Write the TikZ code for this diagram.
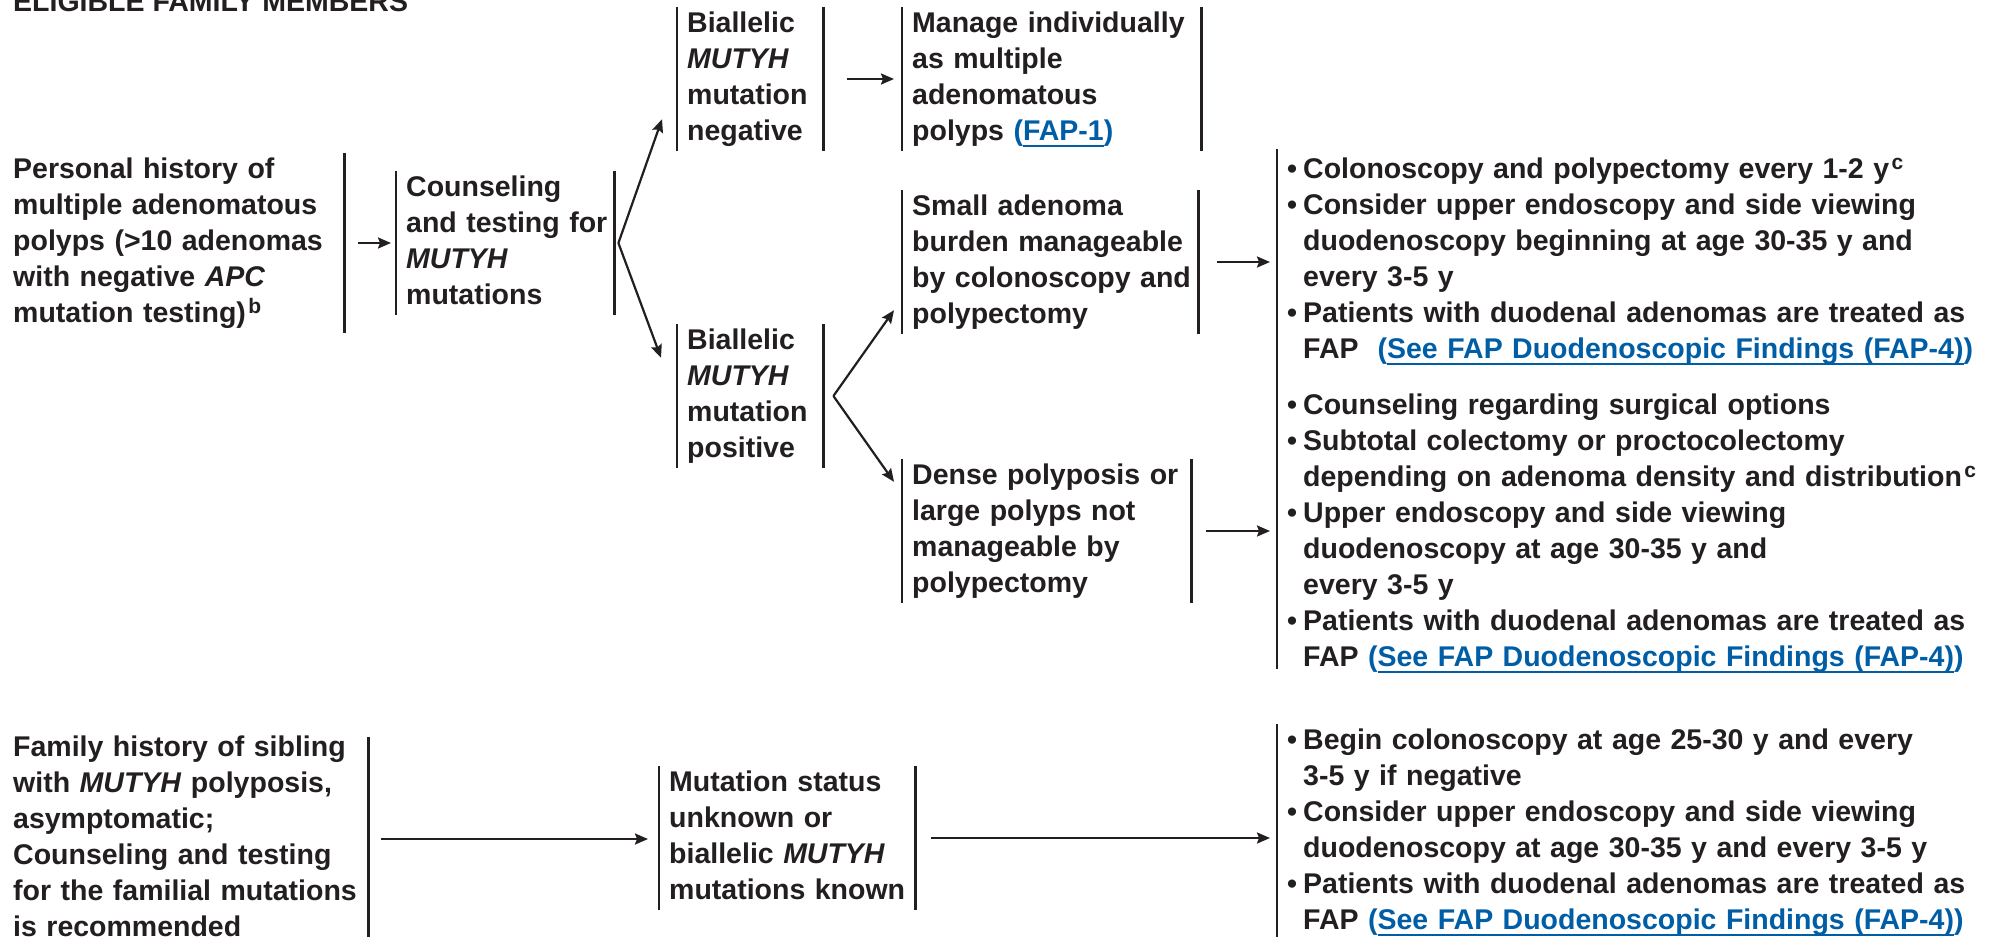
\documentclass[tikz,border=0pt]{standalone}
\usepackage{fontspec}
\setmainfont{Liberation Sans}
\usetikzlibrary{arrows.meta}

\definecolor{ink}{HTML}{231F20}
\definecolor{lnk}{RGB}{0,94,166}

% underlined link text with a fixed rule depth
\newcommand\linkul[1]{\setbox0=\hbox{#1}\rlap{\rule[-7pt]{\wd0}{1.8pt}}\box0}
% raised footnote letter
\newcommand\supr[1]{\kern2.5pt\raisebox{9pt}{\fontsize{21}{21}\selectfont #1}}
% bullet and continuation indent for the recommendation lists
\newcommand\bul{\makebox[16pt][l]{\textbullet}}
\newcommand\cont{\hspace*{16pt}}

\tikzset{
  txt/.style={font=\fontsize{28.5}{36}\selectfont\bfseries, text=ink,
    inner ysep=0pt, inner xsep=10pt, align=left, anchor=north west},
  bar/.style={draw=ink, line width=2.2pt},
  arr/.style={draw=ink, line width=2.2pt, -{Stealth[length=13pt,width=11pt,inset=2pt]}},
}

\begin{document}
\begin{tikzpicture}[x=1pt, y=-1pt]
\useasboundingbox (0,0) rectangle (2003,937);
\clip (0,0) rectangle (2003,937);
\fill[white] (0,0) rectangle (2003,937);

\node[font=\fontsize{28.5}{36}\selectfont\bfseries, text=ink, anchor=base west, inner sep=0pt] (title) at (13,11) {ELIGIBLE FAMILY MEMBERS};

% --- personal history branch ---
\node[txt, text width=321pt] (A) at (3,152.8) {\begin{tabular}[t]{@{}l@{}}Personal history of\\ multiple adenomatous\\ polyps (>10 adenomas\\ with negative \textit{APC}\\ mutation testing)\supr{b}\end{tabular}};
\node[txt, text width=198pt] (B) at (396,170.8) {\begin{tabular}[t]{@{}l@{}}Counseling\\ and testing for\\ \textit{MUTYH}\\ mutations\end{tabular}};
\node[txt, text width=126pt] (C) at (677,6.8) {\begin{tabular}[t]{@{}l@{}}Biallelic\\ \textit{MUTYH}\\ mutation\\ negative\end{tabular}};
\node[txt, text width=279pt] (D) at (902,6.8) {\begin{tabular}[t]{@{}l@{}}Manage individually\\ as multiple\\ adenomatous\\ polyps {\color{lnk}(\linkul{FAP-1})}\end{tabular}};
\node[txt, text width=126pt] (E) at (677,323.8) {\begin{tabular}[t]{@{}l@{}}Biallelic\\ \textit{MUTYH}\\ mutation\\ positive\end{tabular}};
\node[txt, text width=276pt] (F) at (902,189.8) {\begin{tabular}[t]{@{}l@{}}Small adenoma\\ burden manageable\\ by colonoscopy and\\ polypectomy\end{tabular}};
\node[txt, text width=269pt] (H) at (902,458.8) {\begin{tabular}[t]{@{}l@{}}Dense polyposis or\\ large polyps not\\ manageable by\\ polypectomy\end{tabular}};
\node[txt, text width=700pt] (G) at (1277,152.8) {\begin{tabular}[t]{@{}l@{}}\bul Colonoscopy and polypectomy every 1-2 y\supr{c}\\ \bul Consider upper endoscopy and side viewing\\ \cont duodenoscopy beginning at age 30-35 y and\\ \cont every 3-5 y\\ \bul Patients with duodenal adenomas are treated as\\ \cont FAP\ \ {\color{lnk}(\linkul{See FAP Duodenoscopic Findings (FAP-4)})}\end{tabular}};
\node[txt, text width=700pt] (I) at (1277,388.8) {\begin{tabular}[t]{@{}l@{}}\bul Counseling regarding surgical options\\ \bul Subtotal colectomy or proctocolectomy\\ \cont depending on adenoma density and distribution\supr{c}\\ \bul Upper endoscopy and side viewing\\ \cont duodenoscopy at age 30-35 y and\\ \cont every 3-5 y\\ \bul Patients with duodenal adenomas are treated as\\ \cont FAP {\color{lnk}(\linkul{See FAP Duodenoscopic Findings (FAP-4)})}\end{tabular}};

% --- family history branch ---
\node[txt, text width=345pt] (J) at (3,730.8) {\begin{tabular}[t]{@{}l@{}}Family history of sibling\\ with \textit{MUTYH} polyposis,\\ asymptomatic;\\ Counseling and testing\\ for the familial mutations\\ is recommended\end{tabular}};
\node[txt, text width=236pt] (K) at (659,765.8) {\begin{tabular}[t]{@{}l@{}}Mutation status\\ unknown or\\ biallelic \textit{MUTYH}\\ mutations known\end{tabular}};
\node[txt, text width=700pt] (L) at (1277,723.8) {\begin{tabular}[t]{@{}l@{}}\bul Begin colonoscopy at age 25-30 y and every\\ \cont 3-5 y if negative\\ \bul Consider upper endoscopy and side viewing\\ \cont duodenoscopy at age 30-35 y and every 3-5 y\\ \bul Patients with duodenal adenomas are treated as\\ \cont FAP {\color{lnk}(\linkul{See FAP Duodenoscopic Findings (FAP-4)})}\end{tabular}};

% --- side bars of the boxes ---
\draw[bar] (A.north east) -- (A.south east);
\foreach \n in {B,C,D,E,F,H,K}{
  \draw[bar] (\n.north west) -- (\n.south west);
  \draw[bar] (\n.north east) -- (\n.south east);
}
\draw[bar] ([yshift=4pt]G.north west) -- ([yshift=-30pt]G.south west);
\draw[bar] (I.north west) -- ([yshift=8pt]I.south west);
\draw[bar] (L.north west) -- (L.south west);
\draw[bar] ([yshift=-6pt]J.north east) -- (J.south east);

% --- connectors ---
\draw[arr, shorten <=14pt, shorten >=5pt] (A.east) -- (A.east -| B.west);
\draw[arr] ([xshift=4pt]B.east) -- ([xshift=-15pt,yshift=32pt]C.south west);
\draw[arr] ([xshift=4pt]B.east) -- ([xshift=-16pt,yshift=-34pt]E.north west);
\draw[arr, shorten <=24pt, shorten >=8pt] (C.east) -- (C.east -| D.west);
\draw[arr] ([xshift=10pt]E.east) -- ([xshift=-8pt,yshift=24pt]F.south west);
\draw[arr] ([xshift=10pt]E.east) -- ([xshift=-8pt,yshift=-23pt]H.north west);
\draw[arr, shorten <=19pt, shorten >=7pt] (F.east) -- (F.east -| G.west);
\draw[arr, shorten <=15pt, shorten >=7pt] (H.east) -- (H.east -| I.west);
\draw[arr, shorten <=13pt, shorten >=11pt] (J.east) -- (J.east -| K.west);
\draw[arr, shorten <=16pt, shorten >=7pt] (K.east) -- (K.east -| L.west);
\end{tikzpicture}
\end{document}
